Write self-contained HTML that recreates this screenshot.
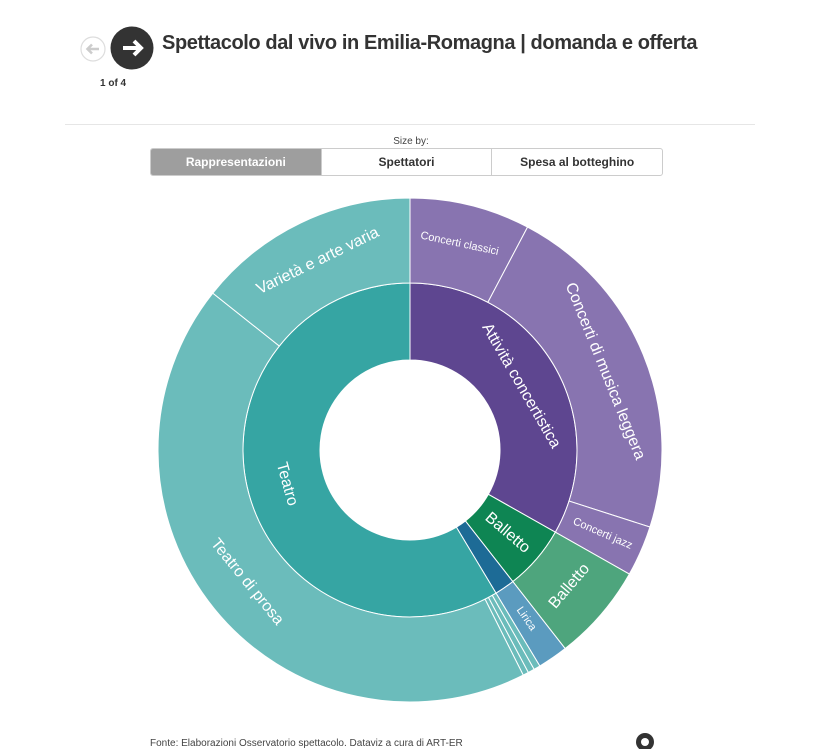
<!DOCTYPE html>
<html><head><meta charset="utf-8"><style>
body{margin:0;width:822px;height:749px;background:#fff;font-family:"Liberation Sans",sans-serif;position:relative;overflow:hidden;color:#333}
.t{position:absolute;left:162px;top:32px;font-size:20px;font-weight:bold;color:#333;letter-spacing:-0.4px}
.pg{position:absolute;left:100px;top:78px;font-size:10px;font-weight:bold}
.hr{position:absolute;left:65px;top:124px;width:690px;height:1px;background:#e6e6e6}
.sb{position:absolute;left:0;width:822px;top:136px;text-align:center;font-size:10px;color:#444}
.btns{position:absolute;left:150px;top:148px;width:511px;height:26px;border:1px solid #ccc;border-radius:3px;display:flex;overflow:hidden}
.btns div{flex:1;text-align:center;line-height:26px;font-size:12px;font-weight:bold;border-left:1px solid #ccc}
.btns div:first-child{background:#9e9e9e;color:#fff;border-left:none}
.ft{position:absolute;left:150px;top:738px;font-size:10px;color:#444}
</style></head><body>
<svg style="position:absolute;left:0;top:0" width="822" height="120">
<circle cx="93" cy="49" r="12" fill="#fff" stroke="#ddd" stroke-width="1.2"/>
<path d="M99 49H88M92 44.5L87.5 49L92 53.5" stroke="#ccc" stroke-width="2.5" fill="none"/>
<circle cx="132" cy="48" r="21.5" fill="#333"/>
<path d="M123 48H140M134 41L141 48L134 55" stroke="#fff" stroke-width="4" fill="none"/>
</svg>
<div class="t">Spettacolo dal vivo in Emilia-Romagna | domanda e offerta</div>
<div class="pg">1 of 4</div>
<div class="hr"></div>
<div class="sb">Size by:</div>
<div class="btns"><div>Rappresentazioni</div><div>Spettatori</div><div>Spesa al botteghino</div></div>
<svg id="c" style="position:absolute;left:0;top:0" width="822" height="749"></svg>
<div class="ft">Fonte: Elaborazioni Osservatorio spettacolo. Dataviz a cura di ART-ER</div>
<svg style="position:absolute;left:634px;top:731px" width="22" height="18"><circle cx="11" cy="11" r="9" fill="#333"/><circle cx="11" cy="11" r="4" fill="#fff"/></svg>
<script>
var cx=410,cy=450,s=document.getElementById('c'),h='';
function p(r,a){a=a*Math.PI/180;return [cx+r*Math.sin(a),cy-r*Math.cos(a)];}
function arc(r0,r1,a0,a1,c){var l=(a1-a0)>180?1:0,A=p(r1,a0),B=p(r1,a1),C=p(r0,a1),D=p(r0,a0);
h+='<path d="M'+A+'A'+r1+','+r1+' 0 '+l+' 1 '+B+'L'+C+'A'+r0+','+r0+' 0 '+l+' 0 '+D+'Z" fill="'+c+'" stroke="#fff" stroke-width="1"/>';}
arc(90,167,0,119.5,'#5e4690');arc(90,167,119.5,142,'#0e8553');arc(90,167,142,149,'#1d6b96');arc(90,167,149,360,'#36a5a3');
arc(167,252,0,27.8,'#8874b0');arc(167,252,27.8,107.8,'#8874b0');arc(167,252,107.8,119.5,'#8874b0');
arc(167,252,119.5,142,'#4ea57d');arc(167,252,142,149,'#5b9bbf');arc(167,252,149,150.5,'#6bbcbb');arc(167,252,150.5,152,'#6bbcbb');arc(167,252,152,153.3,'#6bbcbb');
arc(167,252,153.3,308.5,'#6bbcbb');arc(167,252,308.5,360,'#6bbcbb');
function t(txt,r,a,rot,fs){var P=p(r,a);h+='<text x="'+P[0]+'" y="'+P[1]+'" transform="rotate('+rot+' '+P[0]+' '+P[1]+')" fill="#fff" font-size="'+fs+'" text-anchor="middle" dominant-baseline="middle">'+txt+'</text>';}
t('Varietà e arte varia',210,334,-26,16);
t('Concerti classici',212,13.5,12,11);
t('Concerti di musica leggera',210,68,68,16);
t('Concerti jazz',210,113.5,23.5,11);
t('Balletto',210,130.5,-49.5,16);
t('Lirica',205,145.5,55.5,11);
t('Teatro di prosa',210,231,51,16);
t('Attività concertistica',128,60,60,16);
t('Balletto',128,130.5,40.5,16);
t('Teatro',128,254.5,74.5,16);
s.innerHTML=h;
</script>
</body></html>
